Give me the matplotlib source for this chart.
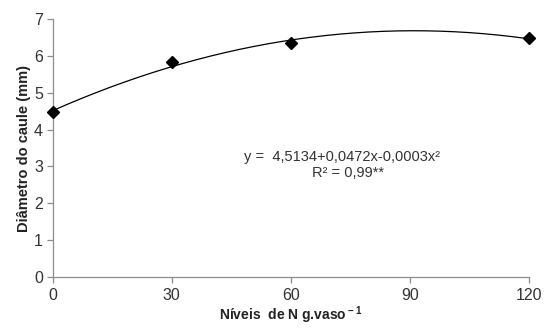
import numpy as np
from matplotlib import pyplot as plt

plt.rcParams['font.family'] = ['Liberation Sans', 'DejaVu Sans']
plt.rcParams['mathtext.fontset'] = 'custom'
plt.rcParams['mathtext.rm'] = 'Liberation Sans'
plt.rcParams['mathtext.bf'] = 'Liberation Sans:bold'

# doses de N e diametro medido
doses = [0, 30, 60, 120]
diametro = [4.47, 5.83, 6.34, 6.48]
xticks = [0, 30, 60, 90, 120]
yticks = [0, 1, 2, 3, 4, 5, 6, 7]

fig = plt.figure(figsize=(5.44, 3.29), dpi=100)
ax = fig.add_axes([0.097, 0.158, 0.875, 0.784])

# curva ajustada (polinomio de 2 grau)
coef = np.polyfit(doses, diametro, 2)
xs = np.linspace(0, 120, 200)
ax.plot(xs, np.polyval(coef, xs), color='black', lw=0.9, clip_on=False)
ax.plot(doses, diametro, 'D', color='black', ms=6, clip_on=False, zorder=3)

ax.set_xlim(0, 120)
ax.set_ylim(0, 7)
ax.set_xticks(xticks)
ax.set_yticks(yticks)
for s in ['top', 'right']:
    ax.spines[s].set_visible(False)
for s in ['left', 'bottom']:
    ax.spines[s].set_color('#8c8c8c')
    ax.spines[s].set_linewidth(0.9)
ax.tick_params(colors='#8c8c8c', labelcolor='#333333', labelsize=11.5, length=4, width=0.9)
ax.tick_params(axis='x', pad=4)
ax.tick_params(axis='y', pad=3)

ax.set_ylabel('Diâmetro do caule (mm)', fontsize=10.5, fontweight='bold', color='#222222', labelpad=2)
ax.set_xlabel(r'Níveis  de N g.vaso$^{\bf -1}$', fontsize=10, fontweight='bold', color='#222222', labelpad=1)

ax.text(73, 3.25, 'y =  4,5134+0,0472x-0,0003x²', ha='center', va='center', fontsize=10.5, color='#333333')
ax.text(74.5, 2.82, 'R² = 0,99**', ha='center', va='center', fontsize=10.5, color='#333333')

plt.savefig('out.png', dpi=100)
